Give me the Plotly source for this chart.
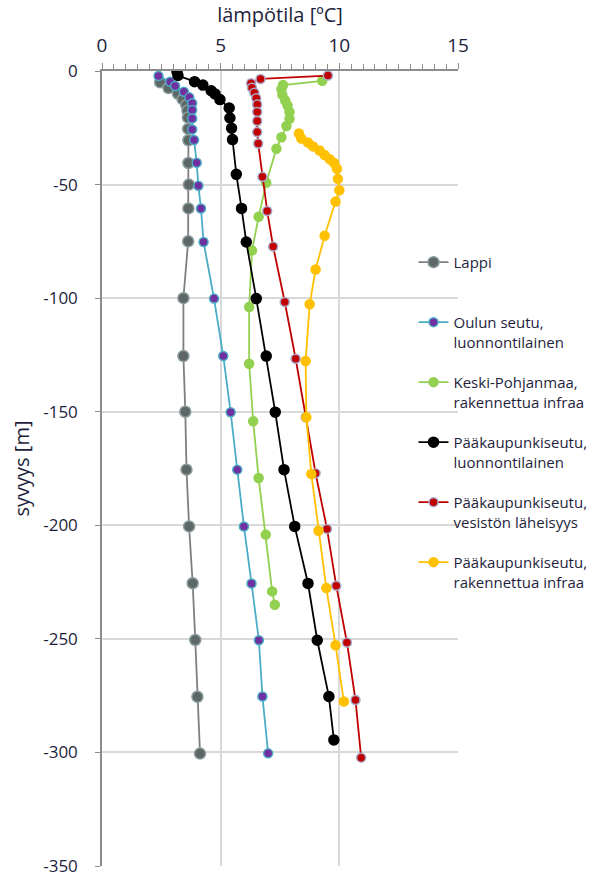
import plotly.graph_objects as go

# ---- data (temperature °C, depth m) ----
lappi_depth = [-5, -7.5, -10, -12.5, -15, -17.5, -20.5, -25.5, -30.5, -40.5, -50, -60.5, -75, -100,
               -125.5, -150, -175.5, -200.5, -225.5, -250.5, -275.5, -300.5]
lappi_temp = [2.45, 2.8, 3.2, 3.4, 3.55, 3.6, 3.62, 3.63, 3.64, 3.64, 3.66, 3.64, 3.63, 3.43,
              3.43, 3.51, 3.56, 3.67, 3.82, 3.93, 4.02, 4.13]

oulu_depth = [-2.2, -4.7, -6.6, -9.1, -11.6, -14.2, -17.2, -20.9, -25.7, -30.4, -40.4, -50.5, -60.5,
              -75.3, -100.2, -125.5, -150.2, -175.5, -200.5, -225.6, -250.6, -275.4, -300.4]
oulu_temp = [2.38, 2.87, 3.08, 3.45, 3.68, 3.8, 3.8, 3.8, 3.8, 3.88, 3.99, 4.06, 4.17,
             4.28, 4.72, 5.11, 5.42, 5.70, 5.98, 6.30, 6.61, 6.76, 7.0]

keski_depth = [-4.3, -6.2, -8, -10.5, -13, -15.2, -18, -21, -24.2, -29.2, -34.2, -49.2, -64.2,
               -79, -103.9, -128.9, -154.2, -179.2, -204.1, -229.1, -235]
keski_temp = [9.28, 7.63, 7.56, 7.6, 7.72, 7.82, 7.9, 7.9, 7.77, 7.56, 7.35, 6.92, 6.6,
              6.32, 6.2, 6.2, 6.37, 6.6, 6.9, 7.17, 7.28]

pk_luonto_depth = [-0.3, -2, -4.7, -6.2, -8.7, -10.1, -12.6, -16.3, -20.7, -25.2, -30.2, -45.5, -60.5,
                   -75.3, -100.2, -125.5, -150.2, -175.5, -200.5, -225.6, -250.6, -275.4, -294.5]
pk_luonto_temp = [3.16, 3.2, 3.9, 4.25, 4.6, 4.76, 4.97, 5.36, 5.39, 5.46, 5.5, 5.66, 5.88,
                  6.08, 6.5, 6.92, 7.3, 7.67, 8.12, 8.68, 9.07, 9.56, 9.77]

pk_vesi_depth = [-2, -3.5, -5.4, -7.4, -9.6, -12, -14.8, -18, -22, -26.9, -31.9, -46.6, -61.6,
                 -77.3, -101.7, -126.7, -152.4, -177.1, -201.6, -226.6, -251.6, -276.9, -302.3]
pk_vesi_temp = [9.52, 6.68, 6.28, 6.32, 6.42, 6.5, 6.54, 6.54, 6.54, 6.54, 6.58, 6.76, 6.96,
                7.21, 7.70, 8.16, 8.58, 9.0, 9.48, 9.87, 10.32, 10.68, 10.92]

pk_infra_depth = [-27.5, -29.7, -31.5, -33.2, -35, -37, -38.8, -40.5, -43, -47.5, -52.5, -57.5,
                  -72.5, -87.4, -102.7, -127.7, -152.4, -177.4, -202.4, -227.6, -252.8, -277.6]
pk_infra_temp = [8.3, 8.4, 8.68, 8.89, 9.17, 9.38, 9.59, 9.78, 9.9, 9.94, 10.0, 9.84,
                 9.38, 9.0, 8.75, 8.58, 8.61, 8.82, 9.12, 9.45, 9.84, 10.19]

series_names = [
    "Lappi<br> ",
    "Oulun seutu,<br>luonnontilainen",
    "Keski-Pohjanmaa,<br>rakennettua infraa",
    "Pääkaupunkiseutu,<br>luonnontilainen",
    "Pääkaupunkiseutu,<br>vesistön läheisyys",
    "Pääkaupunkiseutu,<br>rakennettua infraa",
]
x_ticks = [0, 5, 10, 15]
y_ticks = [0, -50, -100, -150, -200, -250, -300, -350]
y_ticklabels = ["0", "-50", "-100", "-150", "-200", "-250", "-300", "-350"]

FONT = "Open Sans"
TXT = "#1e1e3c"

styles = [
    dict(line="#7f7f7f", fill="#5d6864", outline="#8c9ca0", size=11),
    dict(line="#4bacc6", fill="#7030a0", outline="#4bacc6", size=9),
    dict(line="#92d050", fill="#92d050", outline="#92d050", size=9),
    dict(line="#000000", fill="#000000", outline="#000000", size=10),
    dict(line="#c00000", fill="#c00000", outline="#a9aacb", size=9),
    dict(line="#ffc000", fill="#ffc000", outline="#ffc000", size=9),
]
data = [
    (lappi_temp, lappi_depth),
    (oulu_temp, oulu_depth),
    (keski_temp, keski_depth),
    (pk_luonto_temp, pk_luonto_depth),
    (pk_vesi_temp, pk_vesi_depth),
    (pk_infra_temp, pk_infra_depth),
]

fig = go.Figure()
for i, ((xs, ys), name, st) in enumerate(zip(data, series_names, styles)):
    fig.add_trace(go.Scatter(
        x=xs, y=ys, mode="lines+markers", name=name,
        legendgroup=f"g{i}",
        line=dict(color=st["line"], width=1.8),
        marker=dict(color=st["fill"], size=st["size"],
                    line=dict(color=st["outline"], width=1.5)),
    ))

fig.update_layout(
    width=594, height=876,
    margin=dict(l=102, r=136, t=71, b=10, autoexpand=False),
    paper_bgcolor="white", plot_bgcolor="white",
    font=dict(family=FONT, color=TXT),
    showlegend=True,
    legend=dict(
        x=0.875, y=0.78, xanchor="left", yanchor="top",
        bgcolor="rgba(0,0,0,0)", font=dict(size=15, family=FONT, color=TXT),
        traceorder="grouped", tracegroupgap=18, valign="top",
        itemwidth=30,
    ),
    xaxis=dict(
        side="top", range=[0, 15], tickvals=x_ticks, automargin=False,
        title=dict(text="lämpötila [ºC]", font=dict(size=20), standoff=4),
        tickfont=dict(size=19), ticklabelstandoff=4,
        showgrid=True, gridcolor="#d9d9d9", gridwidth=1.5,
        showline=True, linecolor="#8c8c8c", linewidth=1.5,
        ticks="outside", ticklen=6, tickcolor="#8c8c8c", tickwidth=1,
        minor=dict(dtick=0.5, ticks="outside", ticklen=5, tickcolor="#8c8c8c", showgrid=False),
        zeroline=False, fixedrange=True,
    ),
    yaxis=dict(
        range=[-350, 0], tickvals=y_ticks, ticktext=y_ticklabels, automargin=False,
        ticklabeloverflow="allow", ticklabelstandoff=14,
        title=dict(text="syvyys [m]", font=dict(size=20), standoff=8),
        tickfont=dict(size=17),
        showgrid=True, gridcolor="#d9d9d9", gridwidth=1.5,
        showline=True, linecolor="#8c8c8c", linewidth=1.5,
        ticks="outside", ticklen=5, tickcolor="#8c8c8c",
        zeroline=False, fixedrange=True,
    ),
)

fig.write_html("out.html", config={"displayModeBar": False},
               post_script="document.body.style.margin='0';")
